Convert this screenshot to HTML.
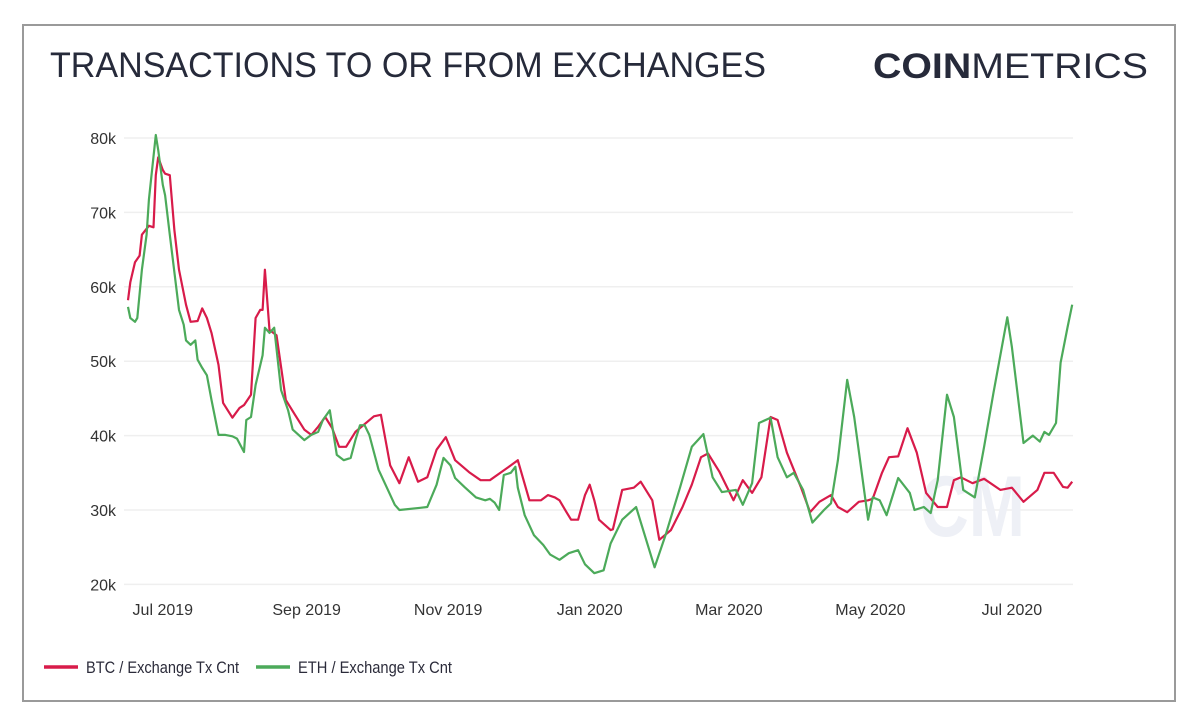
<!DOCTYPE html>
<html><head><meta charset="utf-8"><style>
html,body{margin:0;padding:0;background:#fff;}
svg{display:block;font-family:"Liberation Sans",sans-serif;}
</style></head><body>
<svg id="chart" width="1200" height="726" viewBox="0 0 1200 726">
<rect x="23" y="25" width="1152" height="676" fill="#fff" stroke="#9a9a9a" stroke-width="2"/>
<text x="50" y="77" font-size="35" fill="#262a3a" textLength="716" lengthAdjust="spacingAndGlyphs">TRANSACTIONS TO OR FROM EXCHANGES</text>
<text x="873" y="78" font-size="35" fill="#262a3a" textLength="275" lengthAdjust="spacingAndGlyphs"><tspan font-weight="bold">COIN</tspan><tspan font-weight="normal">METRICS</tspan></text>
<g id="grid"></g>
<g id="yticks"></g>
<g id="xticks"></g>
<text x="920" y="536" font-size="86" fill="#eef0f6" font-weight="bold" textLength="105" lengthAdjust="spacingAndGlyphs">CM</text>
<g id="series"></g>
<g>
<line x1="44" y1="667" x2="78" y2="667" stroke="#d81b4a" stroke-width="3.5"/>
<text x="86" y="673" font-size="17" fill="#2b2b3a" textLength="153" lengthAdjust="spacingAndGlyphs">BTC / Exchange Tx Cnt</text>
<line x1="256" y1="667" x2="290" y2="667" stroke="#4caa5a" stroke-width="3.5"/>
<text x="298" y="673" font-size="17" fill="#2b2b3a" textLength="154" lengthAdjust="spacingAndGlyphs">ETH / Exchange Tx Cnt</text>
</g>
</svg>
<script>
// days since 2019-06-16
const yTicks = [20, 30, 40, 50, 60, 70, 80];
const yTickLabels = ["20k","30k","40k","50k","60k","70k","80k"];
const xTickDays = [15, 77, 138, 199, 259, 320, 381];
const xTickLabels = ["Jul 2019","Sep 2019","Nov 2019","Jan 2020","Mar 2020","May 2020","Jul 2020"];

const btcDays = [0,1,3,5,6,9,11,12,13,15,16,18,20,22,25,27,30,32,34,36,39,41,45,48,50,53,55,57,58,59,61,64,68,72,76,79,82,85,88,91,94,98,106,109,113,117,121,125,129,133,137,141,147,152,156,165,168,173,178,181,184,186,189,191,194,197,199,201,203,208,209,213,218,221,226,229,234,239,243,247,250,255,261,265,269,273,277,280,284,290,294,298,303,306,310,315,319,321,325,328,332,336,340,344,349,353,356,359,364,369,376,381,386,392,395,399,403,405,407];
const btcVals = [58.2,60.6,63.3,64.2,67,68.2,68,75,77.4,75.7,75.2,75,67.6,62.3,57.6,55.3,55.4,57.1,55.8,53.8,49.5,44.4,42.4,43.7,44.1,45.5,55.8,56.9,56.9,62.3,54.2,53.5,44.8,42.8,40.8,40.1,41.2,42.5,41,38.5,38.5,40.5,42.6,42.8,36,33.6,37.1,33.8,34.4,38.1,39.8,36.7,35.1,34,34,36,36.7,31.3,31.3,32,31.7,31.3,29.7,28.7,28.7,32,33.4,31.3,28.7,27.3,27.4,32.7,33,33.8,31.3,26,27.3,30.4,33.4,37.1,37.6,35.1,31.3,34,32.3,34.4,42.5,42.1,37.7,33.1,29.7,31.1,32,30.4,29.7,31.1,31.3,31.5,35,37.1,37.2,41,37.7,32.3,30.4,30.4,34,34.4,33.6,34.2,32.7,33,31.1,32.7,35,35,33.1,33,33.8,35.1];

const ethDays = [0,1,3,4,6,8,9,12,13,15,16,18,22,24,25,27,29,30,32,34,36,39,42,45,47,50,51,53,55,58,59,61,63,66,69,71,76,79,82,84,87,90,93,96,98,100,102,104,108,111,115,117,126,129,133,136,139,141,145,150,154,156,158,160,162,165,167,168,171,175,179,182,186,190,194,197,201,205,208,213,219,227,232,238,243,248,252,256,262,265,269,272,277,280,284,287,291,295,300,303,306,310,313,319,321,324,327,332,337,339,343,346,349,353,356,360,365,369,373,379,381,386,390,393,395,397,400,402,405,407];
const ethVals = [57.3,55.8,55.3,55.8,62.3,67,71.7,80.4,78.4,73.7,72.3,67,56.9,54.9,52.8,52.2,52.8,50.2,49.1,48.1,44.8,40.1,40.1,39.9,39.6,37.8,42.1,42.5,46.8,50.8,54.5,53.8,54.5,46.1,43.4,40.8,39.4,40.1,40.5,42.1,43.4,37.4,36.7,37,39.4,41.4,41.4,40.1,35.4,33.4,30.7,30,30.3,30.4,33.4,37,36,34.3,33.1,31.7,31.3,31.5,31,30,34.7,35,35.8,33,29.3,26.6,25.3,24,23.3,24.2,24.6,22.7,21.5,21.9,25.5,28.7,30.4,22.3,26.9,33.1,38.5,40.2,34.4,32.4,32.7,30.7,33.6,41.7,42.4,37.1,34.4,35,32.7,28.3,30,30.9,36.7,47.5,42.5,28.7,31.7,31.3,29.3,34.3,32.3,30,30.4,29.6,34,45.5,42.5,32.7,31.7,38.5,45.7,55.9,51.9,39,40,39.2,40.5,40.1,41.7,49.8,54.6,57.6];

const NS = "http://www.w3.org/2000/svg";
const X0 = 128, PXD = 2.32, Y80 = 138, PX10 = 74.4;
function xScale(d){ return X0 + d * PXD; }
function yScale(v){ return Y80 + (80 - v) / 10 * PX10; }

const grid = document.getElementById('grid');
const yg = document.getElementById('yticks');
yTicks.forEach((t, i) => {
  const y = yScale(t);
  const l = document.createElementNS(NS, 'line');
  l.setAttribute('x1', 124); l.setAttribute('x2', 1073);
  l.setAttribute('y1', y); l.setAttribute('y2', y);
  l.setAttribute('stroke', '#efefef'); l.setAttribute('stroke-width', '1.5');
  
  
  grid.appendChild(l);
  const tx = document.createElementNS(NS, 'text');
  tx.setAttribute('x', 116); tx.setAttribute('y', y + 6);
  tx.setAttribute('text-anchor', 'end'); tx.setAttribute('font-size', '16');
  tx.setAttribute('fill', '#333');
  tx.textContent = yTickLabels[i];
  
  
  yg.appendChild(tx);
});
const xg = document.getElementById('xticks');
xTickDays.forEach((d, i) => {
  const tx = document.createElementNS(NS, 'text');
  tx.setAttribute('x', xScale(d)); tx.setAttribute('y', 615);
  tx.setAttribute('text-anchor', 'middle'); tx.setAttribute('font-size', '16');
  tx.setAttribute('fill', '#333');
  tx.textContent = xTickLabels[i];
  
  
  xg.appendChild(tx);
});
const sg = document.getElementById('series');
function drawLine(days, vals, color, name){
  const p = document.createElementNS(NS, 'path');
  let d = '';
  const n = Math.min(days.length, vals.length);
  for (let i = 0; i < n; i++) { d += (i ? 'L' : 'M') + xScale(days[i]).toFixed(1) + ',' + yScale(vals[i]).toFixed(1); }
  p.setAttribute('d', d);
  p.setAttribute('fill', 'none'); p.setAttribute('stroke', color);
  p.setAttribute('stroke-width', '2.2'); p.setAttribute('stroke-linejoin', 'round');
  
  
  sg.appendChild(p);
}
drawLine(btcDays, btcVals, '#d81b4a', 'btc-line');
drawLine(ethDays, ethVals, '#4caa5a', 'eth-line');
</script>
</body></html>
